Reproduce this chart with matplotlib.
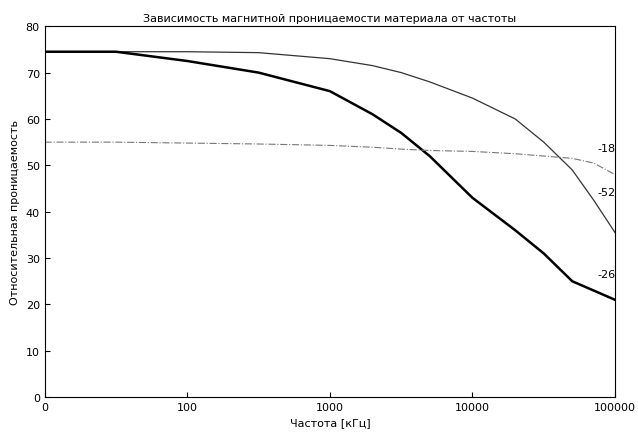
import matplotlib
matplotlib.use("Agg")
import matplotlib.pyplot as plt
import numpy as np

logf = [1, 1.5, 2, 2.5, 3, 3.3, 3.5, 3.7, 4, 4.3, 4.5, 4.7, 4.85, 5]
mu52 = [74.5, 74.5, 74.5, 74.3, 73, 71.5, 70, 68, 64.5, 60, 55, 49, 42.5, 35.5]
mu26 = [74.5, 74.5, 72.5, 70, 66, 61, 57, 52, 43, 36, 31, 25, 23, 21]
mu18 = [55, 55, 54.8, 54.6, 54.3, 53.9, 53.5, 53.2, 53, 52.5, 52, 51.5, 50.5, 48]
xticks = [10, 100, 1000, 10000, 100000]
xticklabels = ["0", "100", "1000", "10000", "100000"]

freq = 10 ** np.array(logf)
fig = plt.figure(figsize=(6.38, 4.39), dpi=100)
ax = fig.add_axes([0.07, 0.093, 0.894, 0.845])
ax.plot(freq, mu52, color="#333", lw=0.9)
ax.plot(freq, mu26, color="black", lw=1.8)
ax.plot(freq, mu18, color="#777", lw=0.8, ls="-.")
ax.set_xscale("log")
ax.set_xlim(10, 100000)
ax.set_ylim(0, 80)
ax.set_xticks(xticks)
ax.set_xticklabels(xticklabels)
ax.minorticks_off()
ax.set_yticks(range(0, 81, 10))
ax.tick_params(labelsize=8, direction="in")
ax.text(10**4.88, 53, "-18", fontsize=8)
ax.text(10**4.88, 43.5, "-52", fontsize=8)
ax.text(10**4.88, 26, "-26", fontsize=8)
ax.set_xlabel("Частота [кГц]", fontsize=8)
ax.set_ylabel("Относительная проницаемость", fontsize=8)
ax.set_title("Зависимость магнитной проницаемости материала от частоты", fontsize=8, pad=4)
fig.savefig("out.png", dpi=100)
